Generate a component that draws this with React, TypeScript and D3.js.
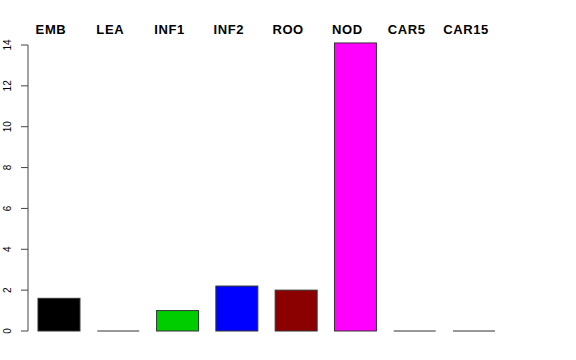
import React from "react";
import * as d3 from "d3";

const categories = ["EMB", "LEA", "INF1", "INF2", "ROO", "NOD", "CAR5", "CAR15"];
const values = [1.6, 0, 1.0, 2.2, 2.0, 14.1, 0, 0];
const colors = ["#000000", "#FF0000", "#00CD00", "#0000FF", "#8B0000", "#FF00FF", "#00CDCD", "#CDCD00"];
const yTicks = [0, 2, 4, 6, 8, 10, 12, 14];

const W = 576;
const H = 360;

export default function App() {
  const y = d3.scaleLinear().domain([0, 14]).range([331, 45]);
  const x = d3
    .scaleBand<string>()
    .domain(categories)
    .range([29.33, 503.67])
    .paddingInner(0.292)
    .paddingOuter(0.146);
  const font = "'Liberation Sans', Arial, Helvetica, sans-serif";
  return (
    <svg
      width={W}
      height={H}
      style={{ position: "absolute", left: 0, top: 0, background: "#fff" }}
      fontFamily={font}
    >
      <rect x={0} y={0} width={W} height={H} fill="#fff" />
      {categories.map((c, i) => {
        const x0 = x(c)!;
        const y0 = y(values[i]);
        const h = Math.abs(y(0) - y0);
        if (h < 0.5) {
          return (
            <line
              key={c}
              x1={x0}
              x2={x0 + x.bandwidth()}
              y1={y(0)}
              y2={y(0)}
              stroke="#333"
              strokeWidth={1}
            />
          );
        }
        return (
          <rect
            key={c}
            x={x0}
            y={Math.min(y0, y(0))}
            width={x.bandwidth()}
            height={h}
            fill={colors[i]}
            stroke="#333"
            strokeWidth={1}
          />
        );
      })}
      {categories.map((c) => (
        <text
          key={c}
          x={x(c)! + x.bandwidth() / 2 - 8}
          y={34}
          textAnchor="middle"
          fontWeight="bold"
          fontSize={13}
          letterSpacing={0.6}
          fill="#000"
        >
          {c}
        </text>
      ))}
      <line x1={28} x2={28} y1={y(14)} y2={y(0)} stroke="#444" strokeWidth={1} />
      {yTicks.map((t) => (
        <g key={t}>
          <line x1={21} x2={28} y1={y(t)} y2={y(t)} stroke="#444" strokeWidth={1} />
          <text
            transform={`translate(10.5,${y(t)}) rotate(-90)`}
            textAnchor="middle"
            fontSize={10}
            fill="#000"
          >
            {t}
          </text>
        </g>
      ))}
    </svg>
  );
}
